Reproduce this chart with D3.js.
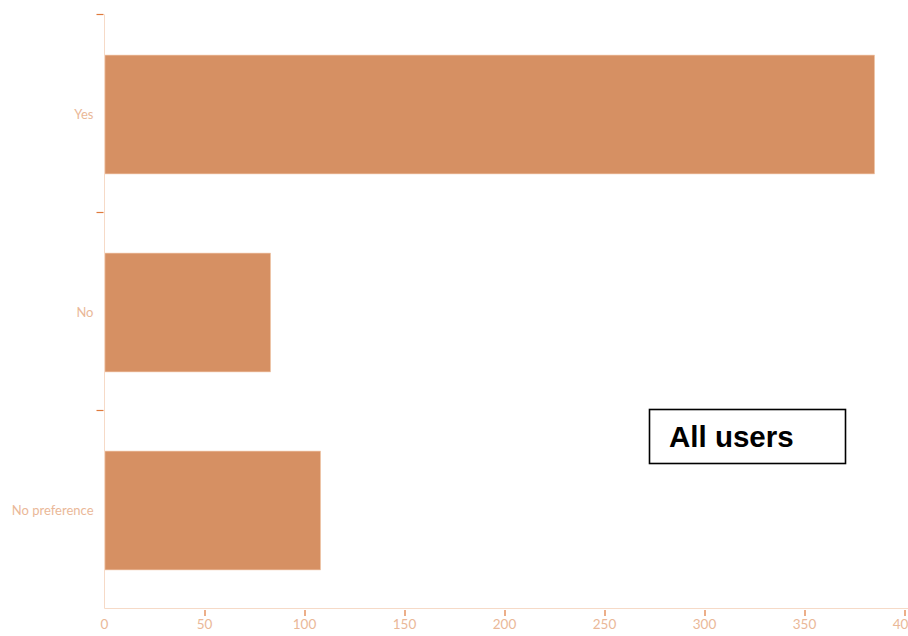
<!DOCTYPE html>
<html>
<head>
<meta charset="utf-8">
<script src="https://cdn.jsdelivr.net/npm/d3@7"></script>
<style>
html,body{margin:0;padding:0;background:#fff;overflow:hidden;}
svg{display:block;}
</style>
</head>
<body>
<svg id="chart" width="908" height="636"></svg>
<script>
const categories = ["Yes", "No", "No preference"];
const values = [385, 83, 108];
const xTicks = [0, 50, 100, 150, 200, 250, 300, 350, 400];
const boxLabel = "All users";

(function () {
const svg = d3.select("#chart");
const mLeft = 104.5, mRight = 904.5, mTop = 14.5, mBottom = 608.5;

const x = d3.scaleLinear().domain([0, 400]).range([mLeft, mRight]);
const y = d3.scaleBand().domain(categories).range([mTop + 1, mBottom + 1]).paddingInner(0.4).paddingOuter(0.2);

const tickColor = "#df7a3c";
const lineColor = "#f6dac7";
const textColor = "#eab898";
const barColor = "#d69063";

// bars
svg.append("g").selectAll("rect").data(categories).join("rect")
  .attr("x", x(0) + 0.5)
  .attr("y", d => y(d))
  .attr("width", (d, i) => x(values[i]) - x(0) - 0.5)
  .attr("height", y.bandwidth())
  .attr("fill", barColor)
  .attr("stroke", "#efc3a3")
  .attr("stroke-width", 0.6);

// y axis line
svg.append("line").attr("x1", mLeft).attr("x2", mLeft).attr("y1", mTop).attr("y2", mBottom)
  .attr("stroke", lineColor).attr("stroke-width", 1);
// x axis line
svg.append("line").attr("x1", mLeft).attr("x2", mRight + 4).attr("y1", mBottom).attr("y2", mBottom)
  .attr("stroke", lineColor).attr("stroke-width", 1);

// y ticks at band boundaries
const yBounds = categories.map((d, i) => mTop + i * y.step());
svg.append("g").selectAll("line").data(yBounds).join("line")
  .attr("x1", mLeft - 8).attr("x2", mLeft - 1)
  .attr("y1", d => d).attr("y2", d => d)
  .attr("stroke", tickColor).attr("stroke-width", 1.2);

// y labels
svg.append("g").selectAll("text").data(categories).join("text")
  .attr("x", mLeft - 11)
  .attr("y", d => y(d) + y.bandwidth() / 2)
  .attr("dy", "0.35em")
  .attr("text-anchor", "end")
  .attr("font-family", "Lato, 'Open Sans', sans-serif")
  .attr("font-size", 13)
  .attr("fill", textColor)
  .text(d => d);

// x ticks
svg.append("g").selectAll("line").data(xTicks.filter(t => t > 0)).join("line")
  .attr("x1", d => Math.round(x(d))).attr("x2", d => Math.round(x(d)))
  .attr("y1", mBottom + 1.5).attr("y2", mBottom + 7.5)
  .attr("stroke", tickColor).attr("stroke-width", 1.2);

svg.append("g").selectAll("text").data(xTicks).join("text")
  .attr("x", d => x(d))
  .attr("y", 624.5)
  .attr("dy", "0.35em")
  .attr("text-anchor", "middle")
  .attr("font-family", "Lato, 'Open Sans', sans-serif")
  .attr("font-size", 13.5)
  .attr("fill", textColor)
  .text(d => d);

// label box
const bx = 649.5, by = 409.5, bw = 196, bh = 54;
svg.append("rect").attr("x", bx).attr("y", by).attr("width", bw).attr("height", bh)
  .attr("fill", "#fff").attr("stroke", "#000").attr("stroke-width", 1.6);
svg.append("text").attr("x", 669).attr("y", 447)
  .attr("font-family", "'Liberation Sans', Arial, sans-serif")
  .attr("font-weight", "bold").attr("font-size", 29.5)
  .attr("fill", "#000")
  .text(boxLabel);
})();
</script>
</body>
</html>
